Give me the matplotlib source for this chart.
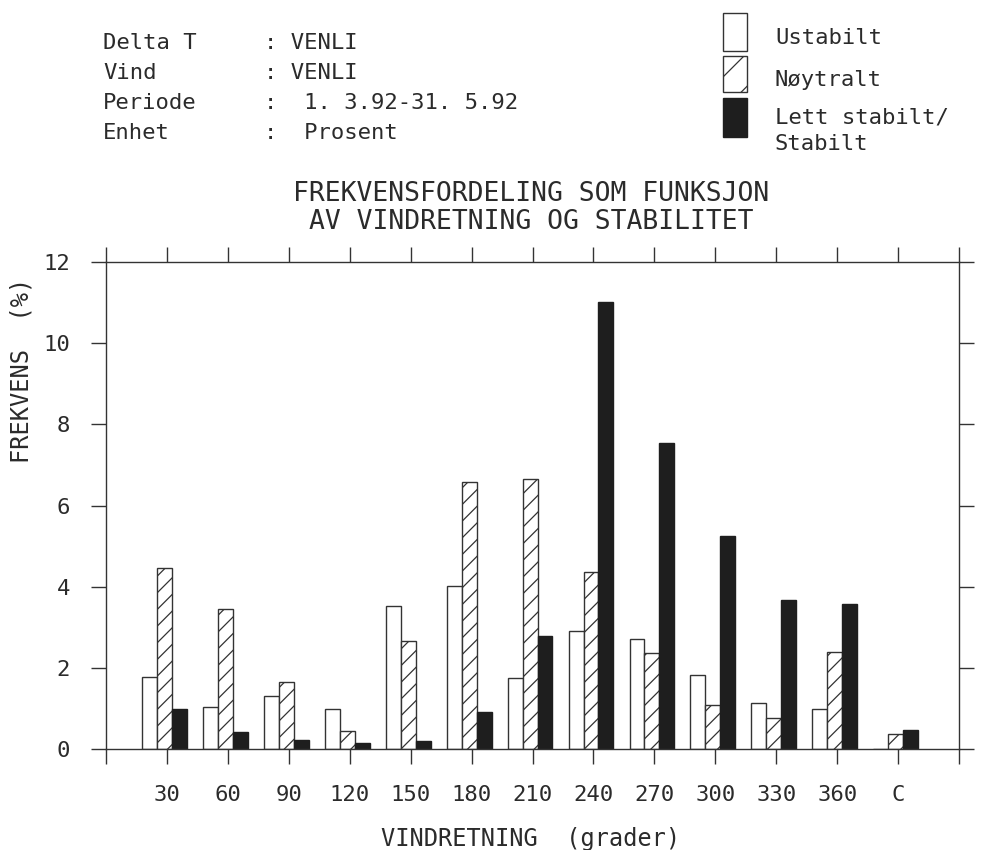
import matplotlib
matplotlib.use("Agg")
import matplotlib.pyplot as plt
from matplotlib.patches import Rectangle
import numpy as np

# ---- data ----
categories = ['30', '60', '90', '120', '150', '180', '210', '240', '270', '300', '330', '360', 'C']
ustabilt = [1.77, 1.05, 1.30, 0.99, 3.53, 4.03, 1.75, 2.92, 2.71, 1.83, 1.13, 0.99, 0.0]
noytralt = [4.45, 3.45, 1.65, 0.45, 2.66, 6.59, 6.64, 4.36, 2.36, 1.09, 0.78, 2.40, 0.38]
stabilt = [0.99, 0.43, 0.23, 0.15, 0.21, 0.93, 2.80, 11.02, 7.55, 5.26, 3.67, 3.57, 0.47]
y_ticks = [0, 2, 4, 6, 8, 10, 12]

header_labels = ['Delta T', 'Vind', 'Periode', 'Enhet']
header_values = [': VENLI', ': VENLI', ':  1. 3.92-31. 5.92', ':  Prosent']
legend_labels = ['Ustabilt', 'Nøytralt', 'Lett stabilt/\nStabilt']
title_lines = ['FREKVENSFORDELING SOM FUNKSJON', 'AV VINDRETNING OG STABILITET']
x_label = 'VINDRETNING  (grader)'
y_label = 'FREKVENS  (%)'

# ---- style ----
FONT = 'DejaVu Sans Mono'
TXT = '#2b2b2b'
LINE = '#333333'
DARK = '#1e1e1e'
plt.rcParams['font.family'] = FONT
plt.rcParams['hatch.linewidth'] = 0.9
plt.rcParams['hatch.color'] = LINE

W, H = 998, 850
fig = plt.figure(figsize=(W / 100, H / 100), dpi=100)
fig.patch.set_facecolor('white')

def fx(px):
    return px / W

def fy(py):
    return 1 - py / H

ax = fig.add_axes([fx(106), fy(749.3), fx(959) - fx(106), fy(261.7) - fy(749.3)])

x = np.arange(1, len(categories) + 1) - 0.04
bw = 0.245
ax.bar(x - bw, ustabilt, bw, facecolor='white', edgecolor=LINE, linewidth=1.0)
ax.bar(x, noytralt, bw, facecolor='white', edgecolor=LINE, linewidth=1.0, hatch='//')
ax.bar(x + bw, stabilt, bw, facecolor=DARK, edgecolor=DARK, linewidth=1.0)

ax.set_xlim(0, 14)
ax.set_ylim(0, 12)
ax.set_xticks(range(0, 15))
ax.set_xticklabels([''] + categories + [''])
ax.set_yticks(y_ticks)
ax.set_yticklabels([str(v) for v in y_ticks])
for s in ax.spines.values():
    s.set_color(LINE)
    s.set_linewidth(1.0)
ax.tick_params(axis='both', direction='out', length=11, width=1.0, color=LINE,
               labelcolor=TXT, labelsize=16, top=True, right=True)
ax.tick_params(axis='x', pad=15)
ax.tick_params(axis='y', pad=15)

# axis labels
fig.text(fx(531), fy(839), x_label, ha='center', va='center', fontsize=17, color=TXT)
fig.text(fx(22), fy(370), y_label, ha='center', va='center', rotation=90, fontsize=17, color=TXT)

# title
fig.text(fx(531), fy(194), title_lines[0], ha='center', va='center', fontsize=19, color=TXT)
fig.text(fx(531), fy(222), title_lines[1], ha='center', va='center', fontsize=19, color=TXT)

# header block
for i, (lab, val) in enumerate(zip(header_labels, header_values)):
    yy = 43 + 30 * i
    fig.text(fx(103), fy(yy), lab, ha='left', va='center', fontsize=16, color=TXT)
    fig.text(fx(264), fy(yy), val, ha='left', va='center', fontsize=16, color=TXT)

# legend
boxes = [(13, 51, 'white', None, LINE), (56, 92, 'white', '/', LINE), (98, 137, DARK, None, DARK)]
text_y = [38, 80, 131]
for (y0, y1, fc, hatch, ec), ty, lab in zip(boxes, text_y, legend_labels):
    r = Rectangle((fx(723), fy(y1)), fx(747) - fx(723), fy(y0) - fy(y1),
                  transform=fig.transFigure, facecolor=fc, edgecolor=ec,
                  hatch=hatch, linewidth=1.0)
    fig.add_artist(r)
    fig.text(fx(775), fy(ty), lab, ha='left', va='center', fontsize=16, color=TXT,
             linespacing=1.4)

fig.savefig('out.png', dpi=100, facecolor='white')
